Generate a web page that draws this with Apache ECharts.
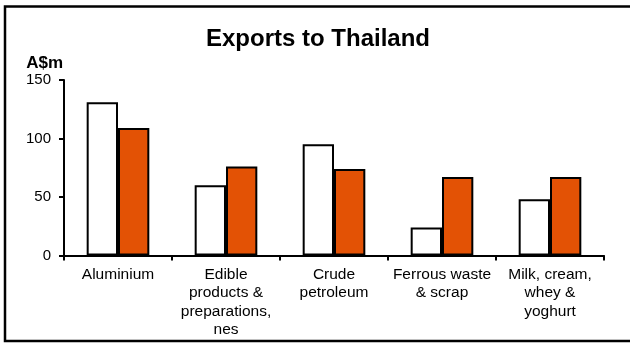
<!DOCTYPE html>
<html>
<head>
<meta charset="utf-8">
<script src="https://cdn.jsdelivr.net/npm/echarts@6/dist/echarts.min.js"></script>
<style>
  html, body { margin: 0; padding: 0; background: #fff; }
  #chart { width: 630px; height: 343px; }
</style>
</head>
<body>
<div id="chart"></div>
<script>
const categories = [
  'Aluminium',
  'Edible\nproducts &\npreparations,\nnes',
  'Crude\npetroleum',
  'Ferrous waste\n& scrap',
  'Milk, cream,\nwhey &\nyoghurt'
];
const seriesA = [131, 60, 95, 24, 48];
const seriesB = [109, 76, 74, 67, 67];
const yTicks = { min: 0, max: 150, interval: 50 };

const FONT = '"Liberation Sans", Arial, sans-serif';
const chart = echarts.init(document.getElementById('chart'));
chart.setOption({
  animation: false,
  backgroundColor: '#fff',
  textStyle: { fontFamily: FONT, color: '#000' },
  title: {
    text: 'Exports to Thailand',
    left: 318,
    textAlign: 'center',
    top: 27,
    padding: 0,
    textStyle: { fontFamily: FONT, fontSize: 24, fontWeight: 'bold', color: '#000' }
  },
  graphic: [{
    type: 'rect',
    shape: { x: 5, y: 6.5, width: 640, height: 334.5 },
    style: { fill: 'none', stroke: '#000', lineWidth: 2.5 },
    silent: true
  }],
  grid: { left: 64, right: 26, top: 80, bottom: 87.5 },
  xAxis: {
    type: 'category',
    data: categories,
    axisLine: { lineStyle: { color: '#000', width: 2 } },
    axisTick: { show: true, length: 5, lineStyle: { color: '#000', width: 2 } },
    axisLabel: { fontFamily: FONT, fontSize: 15.5, color: '#000', lineHeight: 18.3, margin: 10, interval: 0 }
  },
  yAxis: {
    type: 'value',
    min: yTicks.min, max: yTicks.max, interval: yTicks.interval,
    name: 'A$m',
    nameLocation: 'end',
    nameGap: 8,
    nameTextStyle: { fontFamily: FONT, fontSize: 17, fontWeight: 'bold', color: '#000', align: 'right', padding: [0, 1, 0, 0] },
    splitLine: { show: false },
    axisLine: { show: true, lineStyle: { color: '#000', width: 2 } },
    axisTick: { show: true, length: 5, lineStyle: { color: '#000', width: 2 } },
    axisLabel: { fontFamily: FONT, fontSize: 15, color: '#000', margin: 13 }
  },
  series: [
    {
      type: 'bar', data: seriesA, barGap: '0%', barCategoryGap: '42%',
      itemStyle: { color: '#fff', borderColor: '#000', borderWidth: 2 }
    },
    {
      type: 'bar', data: seriesB,
      itemStyle: { color: '#E35205', borderColor: '#000', borderWidth: 2 }
    }
  ]
});
</script>
</body>
</html>
